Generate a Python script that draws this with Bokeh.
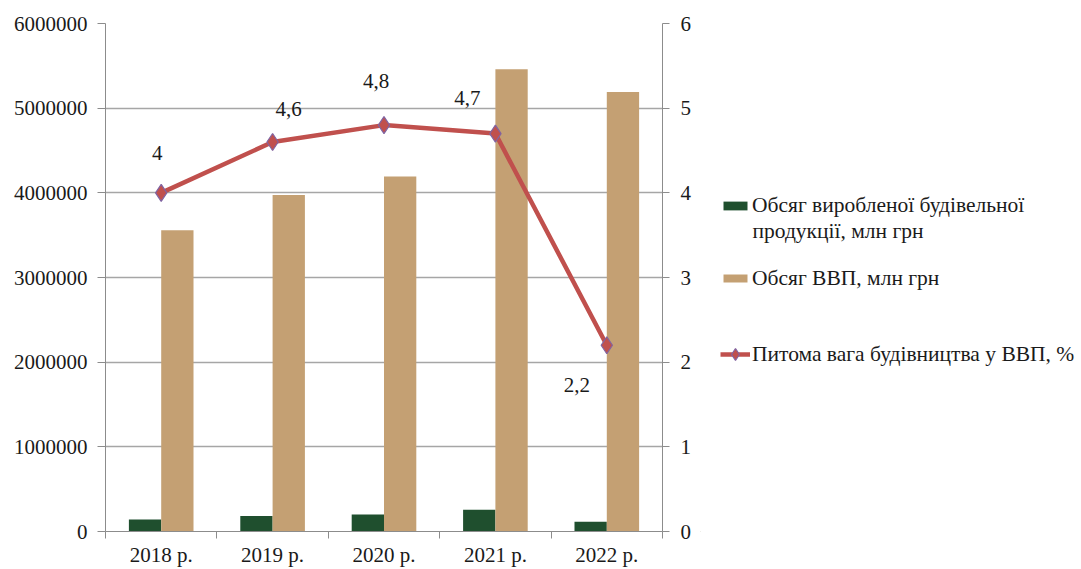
import numpy as np
from bokeh.plotting import figure
from bokeh.layouts import row
from bokeh.models import (ColumnDataSource, Range1d, LinearAxis, FixedTicker,
                          Legend, LegendItem, Label)
from bokeh.transform import dodge
from bokeh.embed import file_html
from bokeh.resources import INLINE

# --- data -------------------------------------------------------------
years = ["2018 р.", "2019 р.", "2020 р.", "2021 р.", "2022 р."]
construction = [141100, 183300, 200500, 256600, 114200]     # млн грн
gdp = [3558706, 3974564, 4194102, 5459574, 5191028]         # млн грн
share = [4.0, 4.6, 4.8, 4.7, 2.2]                            # %
share_labels = ["4", "4,6", "4,8", "4,7", "2,2"]

# label placement (screen px relative to the point)
label_dx = [-4, 16, -8, -28, -30]
label_dy = [-40, -33, -44, -36, 40]

FONT = "Liberation Serif"
TEXT = "#1a1a1a"
GRID = "#a6a6a6"
AXIS = "#8c8c8c"
GREEN = "#1f4f2e"
TAN = "#c4a073"
RED = "#c0504d"
PURPLE = "#8064a2"

centers = np.arange(len(years)) + 0.5
bw = 0.29

src = ColumnDataSource(dict(
    x=centers, year=years, construction=construction, gdp=gdp,
    share=share, lab=share_labels, dx=label_dx, dy=label_dy,
))

# ---------------------------------------------------------------- chart
p = figure(width=700, height=569, output_backend="svg", toolbar_location=None,
           x_range=Range1d(0, len(years)), y_range=Range1d(0, 6000000),
           min_border_left=105, min_border_right=38, min_border_top=23,
           min_border_bottom=37)
p.outline_line_color = None
p.background_fill_color = "white"
p.border_fill_color = "white"
p.extra_y_ranges = {"pct": Range1d(0, 6)}

bar_con = dict(fill_color=GREEN, line_color=None)
bar_gdp = dict(fill_color=TAN, line_color=None)
line_sty = dict(line_color=RED, line_width=4.5)
pt_sty = dict(marker="diamond", size=17, fill_color=RED, line_color=PURPLE,
              line_width=1.2)

p.vbar(x=dodge("x", -bw / 2), top="construction", width=bw, source=src, **bar_con)
p.vbar(x=dodge("x", bw / 2), top="gdp", width=bw, source=src, **bar_gdp)

p.line(x="x", y="share", source=src, y_range_name="pct", **line_sty)
p.scatter(x="x", y="share", source=src, y_range_name="pct", **pt_sty)
p.text(x="x", y="share", text="lab", source=src, y_range_name="pct",
       x_offset="dx", y_offset="dy", text_align="center",
       text_baseline="middle", text_font={"value": FONT},
       text_font_size="21px", text_color=TEXT)

p.xgrid.grid_line_color = None
p.ygrid.grid_line_color = GRID
p.ygrid.grid_line_width = 1.3
p.ygrid.ticker = FixedTicker(ticks=list(range(0, 6000001, 1000000)))


def style_axis(ax, tick_out, standoff):
    ax.axis_line_color = AXIS
    ax.major_tick_line_color = AXIS
    ax.major_tick_out = tick_out
    ax.major_tick_in = 0
    ax.minor_tick_line_color = None
    ax.major_label_standoff = standoff
    ax.major_label_text_font = FONT
    ax.major_label_text_font_size = "21px"
    ax.major_label_text_color = TEXT


ya = p.yaxis[0]
ya.ticker = FixedTicker(ticks=list(range(0, 6000001, 1000000)))
ya.formatter.use_scientific = False
style_axis(ya, 8, 10)

ra = LinearAxis(y_range_name="pct", ticker=FixedTicker(ticks=list(range(0, 7))))
style_axis(ra, 7, 11)
p.add_layout(ra, "right")

# bottom axis: labels at category centres, tick marks at the boundaries
xa = p.xaxis[0]
style_axis(xa, 0, 4)
xa.ticker = FixedTicker(ticks=list(centers), minor_ticks=list(range(len(years) + 1)))
xa.major_label_overrides = {float(c): y for c, y in zip(centers, years)}
xa.major_tick_line_color = None
xa.minor_tick_line_color = AXIS
xa.minor_tick_out = 7
xa.minor_tick_in = 0

# ---------------------------------------------------------------- legend
lg = figure(width=381, height=569, output_backend="svg", toolbar_location=None,
            x_range=Range1d(0, 381), y_range=Range1d(0, 569),
            min_border=0, x_axis_type=None, y_axis_type=None)
lg.outline_line_color = None
lg.grid.grid_line_color = None
lg.border_fill_color = "white"

# key glyphs sit outside the visible range; only their legend swatches show
key = ColumnDataSource(dict(x=[-1000], y=[-1000], top=[-1000]))
k_con = lg.vbar(x="x", top="top", width=1, source=key, **bar_con)
k_gdp = lg.vbar(x="x", top="top", width=1, source=key, **bar_gdp)
k_line = lg.line(x="x", y="y", source=key, **line_sty)
k_pt = lg.scatter(x="x", y="y", source=key, **pt_sty)

entries = [
    ("Обсяг виробленої будівельної", [k_con], 313, 11),
    ("Обсяг ВВП, млн грн", [k_gdp], 240, 10),
    ("Питома вага будівництва у ВВП, %", [k_line, k_pt], 161, 32),
]
for text, rends, bottom, gh in entries:
    leg = Legend(items=[LegendItem(label=text, renderers=rends)],
                 location=(20, bottom))
    leg.label_text_font = FONT
    leg.label_text_font_size = "21.5px"
    leg.label_text_color = TEXT
    leg.glyph_width = 30
    leg.glyph_height = gh
    leg.label_height = 26
    leg.label_standoff = 2
    leg.padding = 0
    leg.margin = 0
    leg.border_line_color = None
    leg.background_fill_alpha = 0
    lg.add_layout(leg, "center")

lg.add_layout(Label(x=52, y=569 - 232, text="продукції, млн грн",
                    text_font=FONT, text_font_size="21.5px", text_color=TEXT,
                    text_baseline="middle"))

open("out.html", "w").write(file_html(row(p, lg), INLINE))
